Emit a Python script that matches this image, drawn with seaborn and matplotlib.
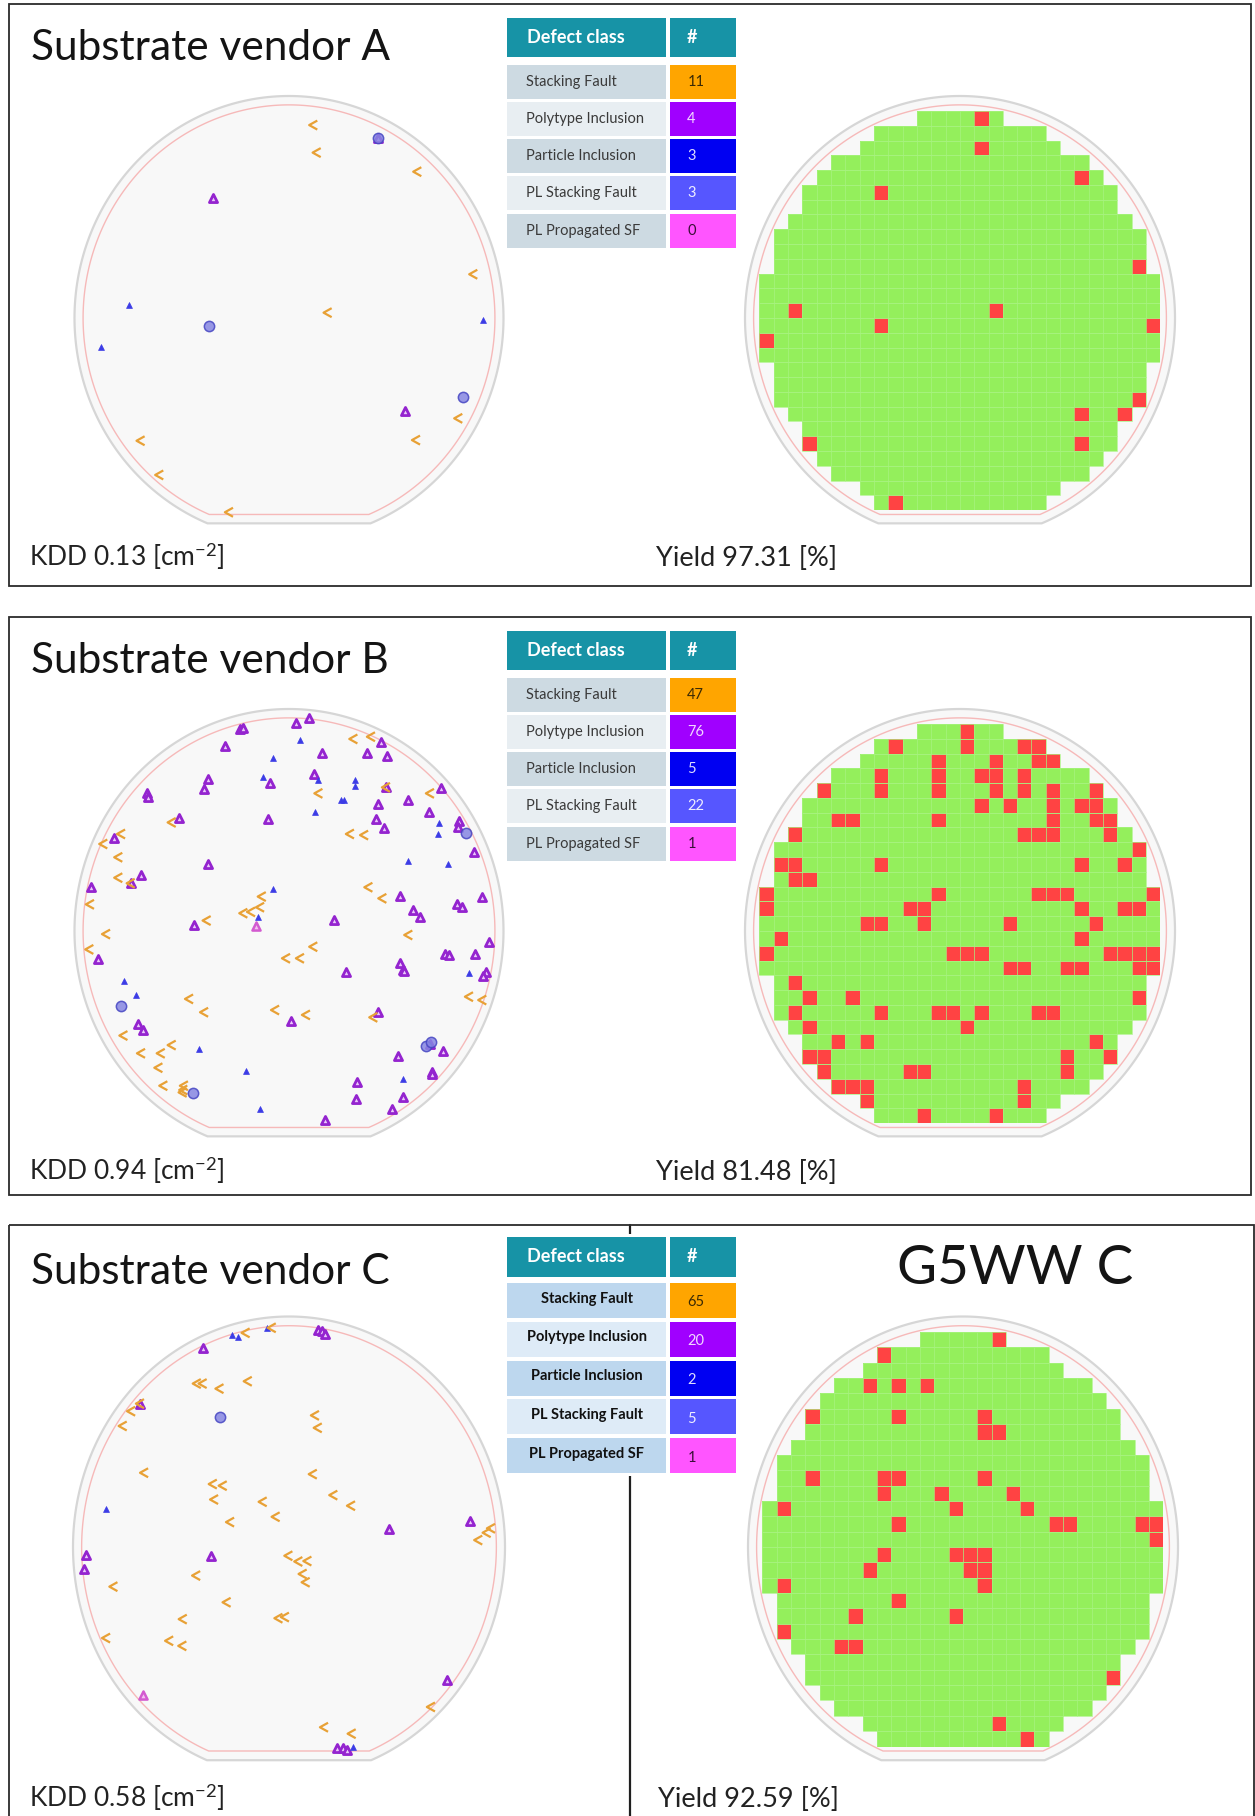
import numpy as np
import pandas as pd
import matplotlib
matplotlib.use("Agg")
import matplotlib.pyplot as plt
from matplotlib.patches import Polygon, Rectangle
from matplotlib.path import Path
from matplotlib.colors import ListedColormap
import seaborn as sns

# ---------------------------------------------------------------- data
DEFECT_CLASSES = ["Stacking Fault", "Polytype Inclusion", "Particle Inclusion",
                  "PL Stacking Fault", "PL Propagated SF"]
CLASS_COLORS = ["#FFA500", "#A000FF", "#0000F2", "#5656FF", "#FF55FF"]
NUMBER_TEXT_COLORS = ["#3b2a05", "#f2d8ff", "#dcdcff", "#eeeeff", "#3a1038"]

COUNTS_A = [11, 4, 3, 3, 0]
COUNTS_B = [47, 76, 5, 22, 1]
COUNTS_C = [65, 20, 2, 5, 1]

KDD_A, KDD_B, KDD_C = 0.13, 0.94, 0.58

# die grid (27 rows x 28 columns): first and last die column of every row
ROW_FIRST = [11, 8, 7, 5, 4, 3, 3, 2, 1, 1, 1, 0, 0, 0, 0, 0, 0, 1, 1, 1, 2, 3, 3, 4, 5, 7, 8]
ROW_LAST = [16, 19, 20, 22, 23, 24, 24, 25, 26, 26, 26, 27, 27, 27, 27, 27, 27,
            26, 26, 26, 25, 24, 24, 23, 22, 20, 19]

# failing dies: row -> columns
FAILS_A = {0: [15], 2: [15], 4: [22], 5: [8], 10: [26], 13: [2, 16], 14: [8, 27],
           15: [0], 19: [26], 20: [22, 25], 22: [3, 22], 26: [9]}
FAILS_B = {0: [14], 1: [9, 14, 18, 19], 2: [12, 16, 19, 20], 3: [8, 12, 15, 16, 18],
           4: [4, 8, 12, 16, 18, 20, 23], 5: [15, 17, 20, 22, 23], 6: [5, 6, 12, 20, 23, 24],
           7: [2, 18, 19, 20, 24], 8: [26], 9: [1, 2, 8, 22, 25], 10: [2, 3],
           11: [0, 12, 19, 20, 21, 27], 12: [0, 10, 11, 22, 25, 26], 13: [7, 8, 11, 17, 23],
           14: [1, 22], 15: [0, 13, 14, 15, 24, 25, 26, 27], 16: [17, 18, 21, 22, 26, 27],
           17: [2], 18: [3, 6, 26], 19: [2, 8, 12, 13, 15, 19, 20], 20: [3, 14],
           21: [5, 7, 23], 22: [3, 4, 21, 24], 23: [4, 10, 11, 21], 24: [5, 6, 7, 18],
           25: [7, 18], 26: [11, 16]}
FAILS_C = {0: [16], 1: [8], 3: [7, 9, 11], 5: [3, 9, 15], 6: [15, 16], 9: [3, 8, 9, 15],
           10: [8, 12, 17], 11: [1, 13, 18], 12: [9, 20, 21, 26, 27], 13: [27],
           14: [8, 13, 14, 15], 15: [7, 14, 15], 16: [1, 15], 17: [9], 18: [6, 13],
           19: [1], 20: [5, 6], 22: [24], 25: [16], 26: [18]}

# defect positions on the wafer (wafer radius = 1)
A_SF = [(0.113, 0.869), (0.129, 0.745), (0.598, 0.659), (0.859, 0.197), (0.180, 0.024),
        (0.789, -0.452), (0.592, -0.550), (-0.692, -0.553), (-0.605, -0.707), (-0.280, -0.875)]
A_POLY = [(-0.353, 0.539), (0.541, -0.419), (0.416, 0.812)]
A_PARTICLE = [(0.416, 0.812), (-0.371, -0.035), (0.813, -0.354)]
A_PLSF = [(-0.744, 0.059), (-0.876, -0.132), (0.906, -0.009)]
A_PLPROP = []

B_SF = [(0.300, 0.865), (0.382, 0.875), (0.137, 0.620), (0.657, 0.620), (-0.547, 0.489),
        (-0.783, 0.437), (-0.866, 0.392), (-0.796, 0.332), (-0.796, 0.240), (-0.928, 0.120),
        (0.284, 0.437), (0.350, 0.432), (0.370, 0.197), (0.435, 0.147), (-0.127, 0.155),
        (-0.135, 0.107), (-0.213, 0.080), (-0.177, 0.086), (-0.384, 0.047), (-0.738, 0.215),
        (0.452, 0.647), (-0.853, -0.014), (-0.931, -0.083), (0.556, -0.018), (0.113, -0.071),
        (-0.014, -0.123), (0.051, -0.123), (-0.466, -0.306), (-0.396, -0.366), (-0.065, -0.356),
        (0.079, -0.378), (0.393, -0.389), (0.839, -0.296), (0.901, -0.311), (-0.772, -0.471),
        (-0.547, -0.514), (-0.690, -0.551), (-0.598, -0.551), (-0.609, -0.616), (-0.586, -0.697),
        (-0.490, -0.697), (-0.493, -0.716), (-0.496, -0.727)]
B_POLY = [(0.093, 0.958), (0.033, 0.935), (-0.228, 0.908), (-0.216, 0.913), (-0.298, 0.833),
          (0.429, 0.853), (0.155, 0.800), (0.362, 0.803), (0.455, 0.788), (-0.376, 0.683),
          (-0.396, 0.640), (-0.664, 0.623), (-0.659, 0.605), (0.118, 0.707), (-0.087, 0.665),
          (0.452, 0.647), (0.709, 0.646), (0.553, 0.590), (0.416, 0.574), (0.651, 0.535),
          (-0.511, 0.508), (-0.096, 0.505), (0.404, 0.503), (0.444, 0.462), (0.794, 0.497),
          (0.786, 0.470), (-0.816, 0.419), (0.864, 0.356), (-0.376, 0.300), (-0.690, 0.252),
          (-0.738, 0.215), (-0.923, 0.200), (0.517, 0.156), (0.578, 0.095), (0.609, 0.065),
          (0.782, 0.120), (0.805, 0.107), (0.898, 0.152), (-0.444, 0.029), (0.211, 0.050),
          (-0.889, -0.128), (0.934, -0.048), (0.727, -0.104), (0.747, -0.108), (0.867, -0.105),
          (0.517, -0.143), (0.533, -0.176), (0.538, -0.179), (0.266, -0.183), (0.918, -0.186),
          (0.903, -0.203), (0.416, -0.363), (0.009, -0.405), (-0.706, -0.419), (-0.679, -0.446),
          (0.716, -0.541), (0.510, -0.563), (0.668, -0.634), (0.668, -0.644), (0.315, -0.679),
          (0.311, -0.757), (0.533, -0.749), (0.480, -0.802), (0.168, -0.851), (0.657, -0.509)]
B_PARTICLE = [(0.825, 0.443), (-0.783, -0.336), (0.637, -0.518), (0.662, -0.502), (-0.446, -0.731)]
B_PLSF = [(0.050, 0.860), (-0.076, 0.781), (-0.120, 0.692), (0.137, 0.682), (0.308, 0.682),
          (0.309, 0.653), (0.241, 0.589), (0.256, 0.589), (0.121, 0.536), (0.701, 0.485),
          (0.696, 0.435), (0.555, 0.315), (0.741, 0.300), (-0.073, 0.191), (-0.146, 0.065),
          (-0.769, -0.224), (-0.713, -0.287), (-0.418, -0.532), (-0.200, -0.629), (0.530, -0.665),
          (-0.135, -0.802), (0.838, -0.188)]
B_PLPROP = [(-0.155, 0.024)]

C_SF = [(-0.201, 0.929), (-0.080, 0.951), (-0.427, 0.709), (-0.400, 0.709), (-0.322, 0.687),
        (-0.191, 0.719), (-0.731, 0.589), (-0.770, 0.525), (0.120, 0.571), (0.133, 0.517),
        (-0.671, 0.322), (-0.353, 0.273), (-0.307, 0.266), (-0.347, 0.206), (-0.122, 0.196),
        (0.110, 0.316), (0.205, 0.225), (0.287, 0.179), (-0.062, 0.131), (-0.273, 0.108),
        (0.915, 0.062), (0.935, 0.081), (-0.690, 0.622), (0.876, 0.030), (-0.003, -0.038),
        (0.043, -0.063), (0.085, -0.061), (0.063, -0.117), (0.077, -0.153), (-0.430, -0.124),
        (-0.813, -0.172), (-0.289, -0.240), (-0.492, -0.313), (-0.049, -0.309), (-0.019, -0.304),
        (-0.847, -0.395), (-0.555, -0.407), (-0.494, -0.429), (0.657, -0.694), (0.162, -0.782),
        (0.290, -0.810)]
C_POLY = [(-0.397, 0.864), (0.136, 0.942), (0.151, 0.935), (0.167, 0.925), (-0.690, 0.619),
          (0.463, 0.078), (0.838, 0.114), (-0.940, -0.035), (-0.947, -0.097), (-0.361, -0.039),
          (0.730, -0.576), (0.221, -0.872), (0.252, -0.874), (0.267, -0.879)]
C_PARTICLE = [(-0.319, 0.564)]
C_PLSF = [(-0.265, 0.918), (-0.235, 0.911), (-0.103, 0.950), (-0.847, 0.167), (0.298, -0.867)]
C_PLPROP = [(-0.674, -0.641)]

# ---------------------------------------------------------------- styling
W, H = 1255, 1816
GREEN, RED = "#94EF5C", "#FF4343"
HEADER_COLOR = "#1793A6"
LABEL_BG_AB = ["#CDDAE2", "#E8EEF2"]
LABEL_BG_C = ["#BDD7EE", "#DEEBF7"]

OUTER_FLAT, EXCL_R, EXCL_FLAT = 0.925, 0.96, 0.885
DIE_PITCH, GRID_LEFT, GRID_TOP = 0.0666, -0.933, 0.9325

CHEVRON = Path([(0.45, 0.5), (-0.45, 0.0), (0.45, -0.5)],
               [Path.MOVETO, Path.LINETO, Path.LINETO])
MARKER_STYLES = [
    dict(marker=CHEVRON, s=42, color="none", edgecolor="#E8A136", linewidth=1.6, zorder=5),
    dict(marker="^", s=34, color="#EBC9FA", edgecolor="#9424CF", linewidth=2.0, zorder=4),
    dict(marker="o", s=55, color="#8686E2", edgecolor="#4545C2", linewidth=1.1, alpha=0.85, zorder=6),
    dict(marker="^", s=18, color="#3C3CE6", edgecolor="#3C3CE6", linewidth=0.5, zorder=4),
    dict(marker="^", s=34, color="#F4C0F2", edgecolor="#D35AD0", linewidth=1.8, zorder=4),
]

LAYOUT = {
    "A": dict(top=4, bottom=586, right=1250.5, cy=318, ry=222, lcx=289, lrx=214.5,
              rcx=960, rrx=215, title_y=60, foot_y=566, table_top=18.3, head_h=38.4,
              row0=46.5, pitch=37.2, row_h=34, yield_x=656, bold_labels=False),
    "B": dict(top=617, bottom=1195, right=1250.5, cy=931, ry=222, lcx=289, lrx=214.5,
              rcx=960, rrx=215, title_y=673, foot_y=1180, table_top=631.3, head_h=38.4,
              row0=46.5, pitch=37.2, row_h=34, yield_x=656, bold_labels=False),
    "C": dict(top=1225, bottom=1840, right=1254, cy=1547, ry=230.5, lcx=289, lrx=216,
              rcx=963, rrx=215, title_y=1284, foot_y=1807, table_top=1236.7, head_h=40,
              row0=46.3, pitch=38.8, row_h=35, yield_x=658, bold_labels=True),
}

sns.set_theme(style="white")
plt.rcParams["font.family"] = ["Lato", "DejaVu Sans"]
plt.rcParams["mathtext.fontset"] = "custom"
plt.rcParams["mathtext.rm"] = "Lato"
plt.rcParams["mathtext.it"] = "Lato:italic"
plt.rcParams["mathtext.bf"] = "Lato:bold"

fig = plt.figure(figsize=(W / 100, H / 100), dpi=100)
fig.patch.set_facecolor("white")


def px_axes(x0, y0, w, h):
    ax = fig.add_axes([x0 / W, 1 - (y0 + h) / H, w / W, h / H])
    ax.set_facecolor("none")
    ax.set_axis_off()
    return ax


page = px_axes(0, 0, W, H)
page.set_xlim(0, W)
page.set_ylim(H, 0)


def wafer_xy(r, flat):
    a = np.arcsin(flat / r)
    th = np.linspace(-a, np.pi + a, 360)
    return np.column_stack([r * np.cos(th), r * np.sin(th)])


def wafer_axes(cx, cy, rx, ry):
    ax = px_axes(cx - rx, cy - ry, 2 * rx, 2 * ry)
    ax.add_patch(Polygon(wafer_xy(1.0, OUTER_FLAT), closed=True, fc="#F8F8F8",
                         ec="#D6D6D6", lw=1.6, clip_on=False))
    ax.add_patch(Polygon(wafer_xy(EXCL_R, EXCL_FLAT), closed=True, fill=False,
                         ec="#F6B9B9", lw=1.0, clip_on=False))
    return ax


def die_matrix(fails):
    m = np.full((len(ROW_FIRST), 28), np.nan)
    for r, (c0, c1) in enumerate(zip(ROW_FIRST, ROW_LAST)):
        m[r, c0:c1 + 1] = 0
    for r, cols in fails.items():
        m[r, cols] = 1
    return m


def draw_table(lay, counts):
    x_lab, w_lab = 507.3, 159.0
    x_num, w_num = 669.8, 66.5
    t = lay["table_top"]
    total_h = lay["row0"] + 4 * lay["pitch"] + lay["row_h"]
    page.add_patch(Rectangle((x_lab - 3, t - 3), x_num + w_num - x_lab + 6, total_h + 6,
                             fc="white", ec="none", zorder=3))
    page.add_patch(Rectangle((x_lab, t), w_lab, lay["head_h"], fc=HEADER_COLOR, ec="none", zorder=4))
    page.add_patch(Rectangle((x_num, t), w_num, lay["head_h"], fc=HEADER_COLOR, ec="none", zorder=4))
    hy = t + lay["head_h"] / 2
    page.text(x_lab + 19.5, hy, "Defect class", color="white", fontsize=13,
              fontweight="bold", va="center", ha="left", zorder=5)
    page.text(x_num + 17, hy, "#", color="white", fontsize=13, fontweight="bold",
              va="center", ha="left", zorder=5)
    bgs = LABEL_BG_C if lay["bold_labels"] else LABEL_BG_AB
    for i, (name, n) in enumerate(zip(DEFECT_CLASSES, counts)):
        y0 = t + lay["row0"] + i * lay["pitch"]
        yc = y0 + lay["row_h"] / 2
        page.add_patch(Rectangle((x_lab, y0), w_lab, lay["row_h"], fc=bgs[i % 2], ec="none", zorder=4))
        page.add_patch(Rectangle((x_num, y0), w_num, lay["row_h"], fc=CLASS_COLORS[i], ec="none", zorder=4))
        if lay["bold_labels"]:
            page.text(x_lab + w_lab / 2, yc - 2, name, color="#111111", fontsize=10.5,
                      fontweight="bold", ha="center", va="center", zorder=5)
        else:
            page.text(x_lab + 18.5, yc, name, color="#3a3a3a", fontsize=10.5,
                      ha="left", va="center", zorder=5)
        page.text(x_num + 17.5, yc + (2 if lay["bold_labels"] else 0), str(n),
                  color=NUMBER_TEXT_COLORS[i], fontsize=10.5, ha="left", va="center", zorder=5)


def draw_panel(key, title, counts, kdd, fails, defects):
    lay = LAYOUT[key]
    # frame
    page.add_patch(Rectangle((9, lay["top"]), lay["right"] - 9, lay["bottom"] - lay["top"],
                             fill=False, ec="#2b2b2b", lw=1.3, zorder=2))
    page.text(31, lay["title_y"], title, fontsize=30.5, fontweight="normal",
              color="#141414", ha="left", va="baseline")

    # defect map
    ax = wafer_axes(lay["lcx"], lay["cy"], lay["lrx"], lay["ry"])
    for pts, style in zip(defects, MARKER_STYLES):
        if not pts:
            continue
        df = pd.DataFrame(pts, columns=["x", "y"])
        sns.scatterplot(data=df, x="x", y="y", ax=ax, legend=False, clip_on=False, **style)
    ax.set_xlim(-1, 1)
    ax.set_ylim(-1, 1)
    ax.set_axis_off()

    # die yield map
    wafer_axes(lay["rcx"], lay["cy"], lay["rrx"], lay["ry"]).set(xlim=(-1, 1), ylim=(-1, 1))
    m = die_matrix(fails)
    gw = 28 * DIE_PITCH * lay["rrx"]
    gh = m.shape[0] * DIE_PITCH * lay["ry"]
    hax = px_axes(lay["rcx"] + GRID_LEFT * lay["rrx"], lay["cy"] - GRID_TOP * lay["ry"], gw, gh)
    sns.heatmap(pd.DataFrame(m), mask=np.isnan(m), cmap=ListedColormap([GREEN, RED]),
                vmin=0, vmax=1, cbar=False, linewidths=0,
                xticklabels=False, yticklabels=False, ax=hax)
    # faint die streets on the tested area only
    for r, (c0, c1) in enumerate(zip(ROW_FIRST, ROW_LAST)):
        hax.hlines([r, r + 1], c0, c1 + 1, color="#A8F380", lw=0.5, zorder=3)
        hax.vlines(np.arange(c0, c1 + 2), r, r + 1, color="#A8F380", lw=0.5, zorder=3)
    hax.set_axis_off()

    n_dies = int(np.sum(~np.isnan(m)))
    n_fail = int(np.nansum(m))
    yield_pct = 100.0 * (n_dies - n_fail) / n_dies

    draw_table(lay, counts)

    page.text(29, lay["foot_y"], f"KDD {kdd:.2f} [cm$^{{-2}}$]", fontsize=19,
              color="#222222", ha="left", va="baseline")
    page.text(lay["yield_x"], lay["foot_y"], f"Yield {yield_pct:.2f} [%]", fontsize=19.5,
              color="#222222", ha="left", va="baseline")


# divider of the lower panel (runs behind its table)
page.plot([630, 630], [1225, H], color="#1f1f1f", lw=1.6, zorder=1)

draw_panel("A", "Substrate vendor A", COUNTS_A, KDD_A, FAILS_A,
           [A_SF, A_POLY, A_PARTICLE, A_PLSF, A_PLPROP])
draw_panel("B", "Substrate vendor B", COUNTS_B, KDD_B, FAILS_B,
           [B_SF, B_POLY, B_PARTICLE, B_PLSF, B_PLPROP])
draw_panel("C", "Substrate vendor C", COUNTS_C, KDD_C, FAILS_C,
           [C_SF, C_POLY, C_PARTICLE, C_PLSF, C_PLPROP])
page.text(897, LAYOUT["C"]["title_y"], "G5WW C", fontsize=39.5, fontweight="normal",
          color="#141414", ha="left", va="baseline")

fig.savefig("out.png", dpi=100, facecolor="white")
